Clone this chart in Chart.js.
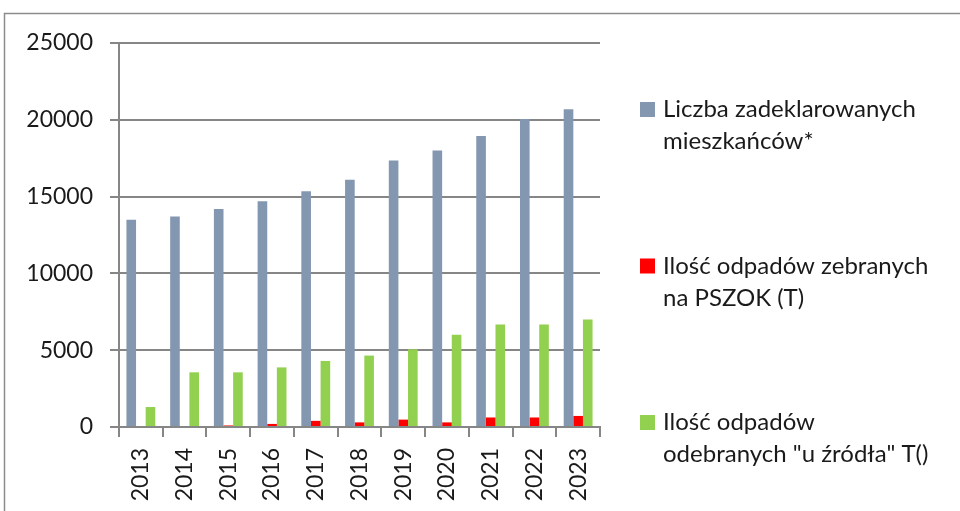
<!DOCTYPE html>
<html>
<head>
<meta charset="utf-8">
<script src="https://cdn.jsdelivr.net/npm/chart.js@4.4.1/dist/chart.umd.min.js"></script>
<style>
  html, body { margin: 0; padding: 0; background: #fff; overflow: hidden; }
  #wrap { position: relative; width: 960px; height: 511px; }
</style>
</head>
<body>
<div id="wrap"><canvas id="chart" width="960" height="511"></canvas></div>
<script>
// Data
const years = ['2013', '2014', '2015', '2016', '2017', '2018', '2019', '2020', '2021', '2022', '2023'];
const residents = [13500, 13700, 14200, 14700, 15350, 16100, 17350, 18000, 18950, 20050, 20680];
const pszok = [0, 0, 100, 200, 400, 300, 480, 300, 620, 620, 720];
const atSource = [1300, 3560, 3560, 3880, 4300, 4650, 5060, 6000, 6670, 6670, 7000];
const yTicks = [0, 5000, 10000, 15000, 20000, 25000];
const seriesNames = [
    ['Liczba zadeklarowanych', 'mieszkańców*'],
    ['Ilość odpadów zebranych', 'na PSZOK (T)'],
    ['Ilość odpadów', 'odebranych "u źródła" T()']
];
const seriesColors = ['#8497b0', '#ff0000', '#92d050'];

const gridColor = '#868686';
const textColor = '#1a1a1a';
const fontFamily = 'Lato, "Open Sans", sans-serif';

// Frame around the whole chart
const framePlugin = {
    id: 'frame',
    beforeDraw(chart) {
        const ctx = chart.ctx;
        ctx.save();
        ctx.strokeStyle = '#8c8c8c';
        ctx.lineWidth = 1.5;
        ctx.strokeRect(4.5, 13.5, 2000, 2000);
        ctx.restore();
    }
};

// Legend on the right, with wrapped labels
const sideLegend = {
    id: 'sideLegend',
    afterDraw(chart) {
        const ctx = chart.ctx;
        ctx.save();
        ctx.font = '24px ' + fontFamily;
        ctx.textBaseline = 'middle';
        ctx.textAlign = 'left';
        chart.data.datasets.forEach((ds, i) => {
            const y0 = 109.5 + i * 156.5;
            ctx.fillStyle = ds.backgroundColor;
            ctx.fillRect(640, y0 - 7.5, 15, 15);
            ctx.fillStyle = textColor;
            ds.legendLines.forEach((line, j) => {
                ctx.fillText(line, 663, y0 + j * 32);
            });
        });
        ctx.restore();
    }
};

const datasets = [residents, pszok, atSource].map((values, i) => ({
    label: seriesNames[i].join(' '),
    legendLines: seriesNames[i],
    data: values,
    backgroundColor: seriesColors[i],
    borderWidth: 0,
    categoryPercentage: 0.66,
    barPercentage: 1.0
}));

new Chart(document.getElementById('chart'), {
    type: 'bar',
    data: { labels: years, datasets: datasets },
    options: {
        responsive: false,
        animation: false,
        layout: { padding: { left: 0, top: 43, right: 360, bottom: 0 } },
        plugins: {
            legend: { display: false },
            tooltip: { enabled: false }
        },
        scales: {
            y: {
                min: 0,
                max: 25000,
                afterFit: (scale) => { scale.width = 119; },
                afterBuildTicks: (scale) => { scale.ticks = yTicks.map(v => ({ value: v })); },
                grid: {
                    color: gridColor,
                    lineWidth: 2,
                    tickLength: 9,
                    drawTicks: true
                },
                border: { color: gridColor, width: 2 },
                ticks: {
                    padding: 17,
                    color: textColor,
                    font: { family: fontFamily, size: 23 },
                    callback: (value) => String(value)
                }
            },
            x: {
                afterFit: (scale) => { scale.height = 84; },
                grid: {
                    offset: true,
                    drawOnChartArea: false,
                    drawTicks: true,
                    tickLength: 10,
                    color: gridColor,
                    lineWidth: 2
                },
                border: { color: gridColor, width: 2 },
                ticks: {
                    minRotation: 90,
                    maxRotation: 90,
                    padding: 11,
                    color: textColor,
                    font: { family: fontFamily, size: 23 }
                }
            }
        }
    },
    plugins: [framePlugin, sideLegend]
});
</script>
</body>
</html>
